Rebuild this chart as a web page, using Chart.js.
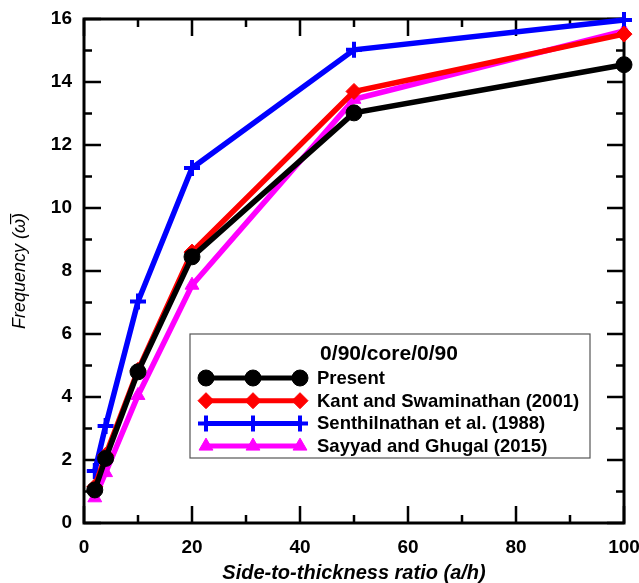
<!DOCTYPE html>
<html>
<head>
<meta charset="utf-8">
<script src="https://cdn.jsdelivr.net/npm/chart.js"></script>
<style>
  html, body { margin: 0; padding: 0; background: #fff; }
  #wrap { width: 639px; height: 583px; position: relative; }
</style>
</head>
<body>
<div id="wrap"><canvas id="freqChart"></canvas></div>
<script>
// ── Side-to-thickness ratios and frequencies ──
const RATIOS   = [2, 4, 10, 20, 50, 100];
const PRESENT  = [1.05, 2.05, 4.8, 8.45, 13.02, 14.55];
const KANT     = [1.15, 2.15, 4.85, 8.6, 13.7, 15.52];
const SENTHIL  = [1.65, 3.08, 7.03, 11.27, 15.02, 15.97];
const SAYYAD   = [0.8, 1.6, 4.05, 7.55, 13.45, 15.62];

const X_TICKS = [0, 20, 40, 60, 80, 100];
const Y_TICKS = [0, 2, 4, 6, 8, 10, 12, 14, 16];

const LEGEND_TITLE = '0/90/core/0/90';
const FONT = "'Liberation Sans', Arial, sans-serif";

function points(ys) {
  return RATIOS.map((x, i) => ({ x, y: ys[i] }));
}

function series(label, ys, color, style, radius, pbw) {
  return {
    label,
    data: points(ys),
    borderColor: color,
    backgroundColor: color,
    borderWidth: 5.5,
    pointStyle: style,
    pointRadius: radius,
    pointBorderWidth: pbw,
    pointBackgroundColor: color,
    pointBorderColor: color,
    tension: 0,
    clip: false,
  };
}

// ── Frame + inward ticks on all four sides ──
const frameTicks = {
  id: 'frameTicks',
  beforeDatasetsDraw(chart) {
    const { ctx, chartArea: a, scales: { x, y } } = chart;
    ctx.save();
    ctx.strokeStyle = '#000';
    ctx.lineWidth = 3;
    ctx.strokeRect(a.left, a.top, a.right - a.left, a.bottom - a.top);
    ctx.lineWidth = 2.5;
    ctx.beginPath();
    for (let v = 0; v <= 100; v += 10) {
      const px = x.getPixelForValue(v);
      const len = v % 20 === 0 ? 17 : 8;
      ctx.moveTo(px, a.top); ctx.lineTo(px, a.top + len);
      ctx.moveTo(px, a.bottom); ctx.lineTo(px, a.bottom - len);
    }
    for (let v = 0; v <= 16; v += 1) {
      const py = y.getPixelForValue(v);
      const len = v % 2 === 0 ? 17 : 8;
      ctx.moveTo(a.left, py); ctx.lineTo(a.left + len, py);
      ctx.moveTo(a.right, py); ctx.lineTo(a.right - len, py);
    }
    ctx.stroke();
    ctx.restore();
  }
};

// ── Boxed legend, three markers per line sample ──
const boxLegend = {
  id: 'boxLegend',
  afterDatasetsDraw(chart) {
    const { ctx } = chart;
    const bx = 190, by = 334, bw = 400, bh = 124;
    ctx.save();
    ctx.fillStyle = '#fff';
    ctx.fillRect(bx, by, bw, bh);
    ctx.strokeStyle = '#555';
    ctx.lineWidth = 1.2;
    ctx.strokeRect(bx, by, bw, bh);

    ctx.fillStyle = '#000';
    ctx.font = `bold 21px ${FONT}`;
    ctx.textAlign = 'center';
    ctx.textBaseline = 'middle';
    ctx.fillText(LEGEND_TITLE, 389, 354);

    ctx.font = `bold 18.5px ${FONT}`;
    ctx.textAlign = 'left';
    chart.data.datasets.forEach((ds, i) => {
      const yy = 378 + i * 22.7;
      ctx.strokeStyle = ds.borderColor;
      ctx.lineWidth = 5;
      ctx.beginPath();
      ctx.moveTo(206, yy); ctx.lineTo(300, yy);
      ctx.stroke();
      [206, 253, 300].forEach(xx => {
        ctx.fillStyle = ds.pointBackgroundColor;
        ctx.strokeStyle = ds.pointBorderColor;
        ctx.lineWidth = ds.pointBorderWidth;
        Chart.helpers.drawPoint(ctx, {
          pointStyle: ds.pointStyle,
          radius: ds.pointRadius,
          rotation: 0,
          borderWidth: ds.pointBorderWidth,
        }, xx, yy);
      });
      ctx.fillStyle = '#000';
      ctx.fillText(ds.label, 317, yy + 1);
    });
    ctx.restore();
  }
};

new Chart(document.getElementById('freqChart'), {
  type: 'line',
  data: {
    datasets: [
      series('Present', PRESENT, '#000000', 'circle', 8, 1),
      series('Kant and Swaminathan (2001)', KANT, '#ff0000', 'rectRot', 8, 1),
      series('Senthilnathan et al. (1988)', SENTHIL, '#0000ff', 'cross', 8, 4),
      series('Sayyad and Ghugal (2015)', SAYYAD, '#ff00ff', 'triangle', 8, 1),
    ]
  },
  options: {
    responsive: true,
    maintainAspectRatio: false,
    animation: false,
    layout: { padding: { top: 19, right: 15, left: 0, bottom: 0 } },
    plugins: {
      legend: { display: false },
      tooltip: { enabled: false },
    },
    scales: {
      x: {
        type: 'linear',
        min: 0, max: 100,
        afterBuildTicks: s => { s.ticks = X_TICKS.map(v => ({ value: v })); },
        afterFit: s => { s.height = 60; s.paddingLeft = 0; s.paddingRight = 0; },
        grid: { display: false, drawTicks: false },
        border: { display: false },
        ticks: { color: '#000', padding: 13, maxRotation: 0, autoSkip: false,
                 font: { family: FONT, size: 19, weight: 'bold' } },
        title: {
          display: true,
          text: 'Side-to-thickness ratio (a/h)',
          color: '#000',
          padding: { top: 0, bottom: 0 },
          font: { family: FONT, size: 20, weight: 'bold', style: 'italic', lineHeight: 1 },
        },
      },
      y: {
        type: 'linear',
        min: 0, max: 16,
        afterBuildTicks: s => { s.ticks = Y_TICKS.map(v => ({ value: v })); },
        afterFit: s => { s.width = 84; s.paddingTop = 0; s.paddingBottom = 0; },
        grid: { display: false, drawTicks: false },
        border: { display: false },
        ticks: { color: '#000', padding: 12, autoSkip: false,
                 font: { family: FONT, size: 19, weight: 'bold' } },
        title: {
          display: true,
          text: 'Frequency (\u03C9\u0305)',
          color: '#000',
          padding: { top: 9, bottom: 0 },
          font: { family: FONT, size: 18, style: 'italic', lineHeight: 1.2 },
        },
      },
    },
  },
  plugins: [frameTicks, boxLegend],
});
</script>
</body>
</html>
